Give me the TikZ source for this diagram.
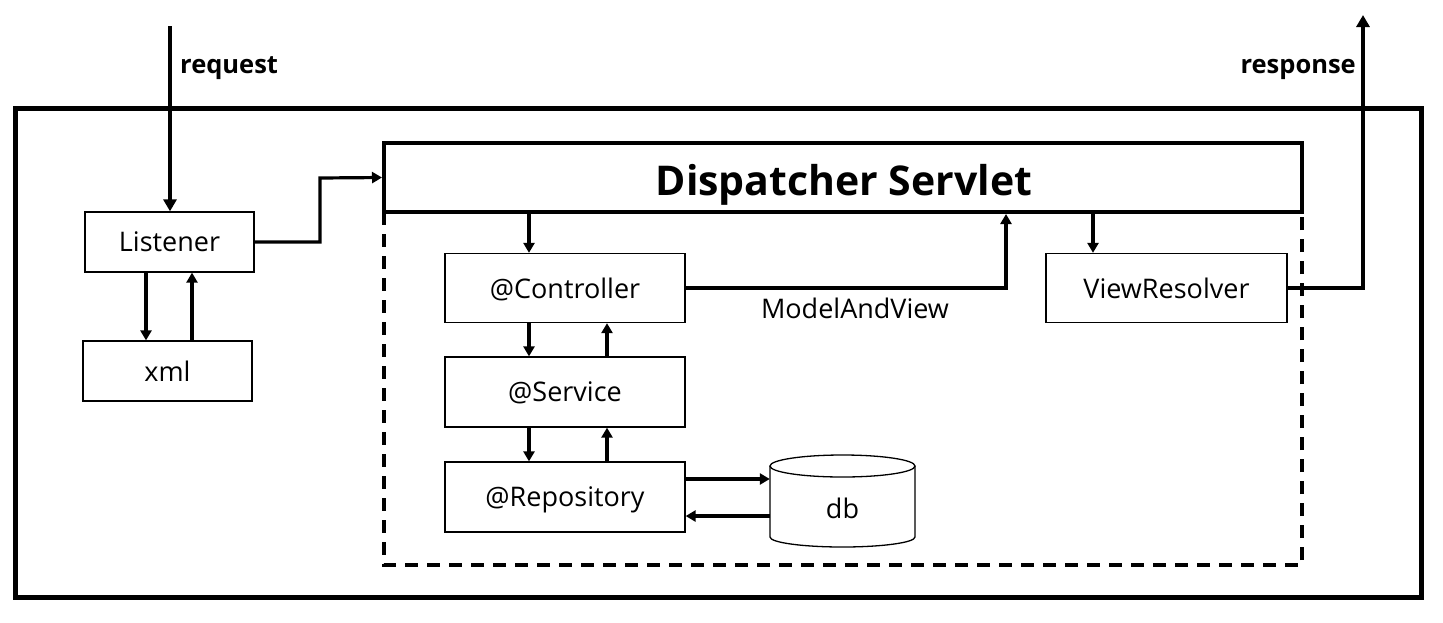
\documentclass[tikz,border=0pt]{standalone}
\usepackage{fontspec}
\setmainfont{Open Sans}
\usetikzlibrary{arrows.meta}
\begin{document}
\begin{tikzpicture}[x=1pt,y=-1pt,
  txt/.style={font=\fontsize{27}{27}\selectfont,inner sep=0pt,text depth=0pt},
  box/.style={txt,draw,line width=1.3pt,minimum width=240pt,minimum height=69pt},
  sbox/.style={txt,draw,line width=1.3pt,minimum width=169pt,minimum height=60pt},
  arr/.style={line width=3.2pt,-{Triangle[length=10pt,width=11pt]}},
  bigarr/.style={line width=4.5pt,-{Triangle[length=12pt,width=13pt]}},
  lbl/.style={font=\bfseries\fontsize{25.5}{25.5}\selectfont,inner sep=0pt}]
\useasboundingbox (0,0) rectangle (1443,622);
% outer frame
\draw[line width=5pt] (15,108) rectangle (1421,597);
% dashed area
\draw[line width=4pt,dash pattern=on 13pt off 9pt] (384,212) -- (384,565) -- (1302,565) -- (1302,212);
% dispatcher
\node[draw,line width=4pt,minimum width=918pt,minimum height=69pt,inner sep=0pt] (ds) at (843,177.5) {};
\node[font=\bfseries\fontsize{41}{41}\selectfont,inner sep=0pt,anchor=base] (dst) at (844,195) {Dispatcher Servlet};
\node[sbox] (lis) at (169.5,242) {Listener};
\node[sbox] (xml) at (167.5,371) {xml};
\node[box] (ctl) at (565,288) {@Controller};
\node[box,minimum height=70pt] (svc) at (565,392) {@Service};
\node[box,minimum height=70pt] (rep) at (565,497) {@Repository};
\node[box,minimum width=241pt] (vr) at (1166.5,288) {ViewResolver};
% database cylinder
\node[txt,minimum width=145pt,minimum height=92pt,text height=34pt] (db) at (842.5,501) {db};
\draw[line width=1.3pt] (842.5,466) ellipse [x radius=72.5,y radius=11];
\draw[line width=1.3pt] (770,466) -- (770,537) arc[start angle=180,end angle=0,x radius=72.5,y radius=10] -- (915,466);
% request / response
\coordinate (rq) at (170,26);
\coordinate (rs) at (1363,15);
\draw[bigarr] (rq) -- (lis.north -| rq);
\node[lbl,anchor=base west] (rql) at (180,73) {request};
\draw[bigarr] (vr.east) -- (1363,288) -- (rs);
\node[lbl,anchor=base east] (rsl) at (1356,73) {response};
% listener
\draw[arr] (lis.east) -- (320,242) -- (320,178) -- (ds.west);
\draw[arr] (lis.south -| 146,0) -- (xml.north -| 146,0);
\draw[arr] (xml.north -| 192,0) -- (lis.south -| 192,0);
% dispatcher to controller etc
\draw[arr] (ds.south -| 529,0) -- (ctl.north -| 529,0);
\draw[arr] (ctl.south -| 529,0) -- (svc.north -| 529,0);
\draw[arr] (svc.north -| 607,0) -- (ctl.south -| 607,0);
\draw[arr] (svc.south -| 529,0) -- (rep.north -| 529,0);
\draw[arr] (rep.north -| 607,0) -- (svc.south -| 607,0);
\draw[arr] (ctl.east) -- (1006,288) -- (ds.south -| 1006,0);
\node[txt,anchor=base] (mav) at (855,318) {ModelAndView};
\draw[arr] (ds.south -| 1093,0) -- (vr.north -| 1093,0);
% repository db
\draw[arr] (rep.east |- 0,479) -- (db.west |- 0,479);
\draw[arr] (db.west |- 0,516) -- (rep.east |- 0,516);
\end{tikzpicture}
\end{document}
